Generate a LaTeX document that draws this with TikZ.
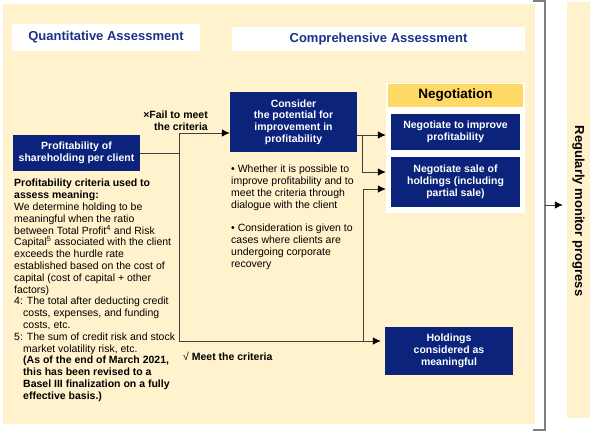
\documentclass[tikz,border=0pt]{standalone}
\usepackage{fontspec}
\setmainfont{Liberation Sans}
\usetikzlibrary{arrows.meta}
\definecolor{beige}{HTML}{FFF2CC}
\definecolor{navy}{HTML}{0B237A}
\definecolor{titleblue}{HTML}{1B3287}
\definecolor{yellowhd}{HTML}{FFD966}
\definecolor{linegray}{HTML}{404040}
\definecolor{brgray}{HTML}{7F7F7F}
\begin{document}
\begin{tikzpicture}[x=1pt,y=-1pt,
  navybox/.style={fill=navy, text=white, font=\bfseries\fontsize{10.5}{11.8}\selectfont, align=center, inner sep=0pt},
  titlebox/.style={fill=white, text=titleblue, font=\bfseries\fontsize{13}{15}\selectfont, inner sep=0pt},
  bodytext/.style={font=\fontsize{10.5}{11.8}\selectfont, inner sep=0pt, text=black},
  conn/.style={draw=linegray, line width=0.8pt},
  arr/.style={conn, -{Latex[length=8pt,width=7.5pt,color=black,fill=black]}}
]
\useasboundingbox (0,0) rectangle (593,434);
% backgrounds
\fill[beige] (3,4) rectangle (535,424);
\node[fill=beige, minimum width=23pt, minimum height=416pt, inner sep=0pt] (panel) at (578.5,210) {};
\node[rotate=-90, font=\bfseries\fontsize{13}{15}\selectfont, inner sep=0pt] (paneltext) at (578.5,211) {Regularly monitor progress};
% titles
\node[titlebox, minimum width=188pt, minimum height=27pt] (quant) at (106,37.5) {Quantitative Assessment};
\node[titlebox, minimum width=293pt, minimum height=24pt] (comp) at (378.5,39) {Comprehensive Assessment};
% boxes
\node[navybox, minimum width=127pt, minimum height=36pt] (profit) at (76.5,153) {Profitability of\\shareholding per client};
\node[navybox, minimum width=127pt, minimum height=60pt] (consider) at (293.5,122) {Consider\\the potential for\\improvement in\\profitability};
\node[fill=white, minimum width=139pt, minimum height=130pt, inner sep=0pt] (neg) at (455.5,148) {};
\node[fill=yellowhd, minimum width=135pt, minimum height=23pt, inner sep=0pt, font=\bfseries\fontsize{13.5}{15}\selectfont] (neghead) at (455.5,95.5) {Negotiation};
\node[navybox, minimum width=129pt, minimum height=36pt] (improve) at (455.5,132) {Negotiate to improve\\profitability};
\node[navybox, minimum width=129pt, minimum height=50pt] (sale) at (455.5,182) {Negotiate sale of\\holdings (including\\partial sale)};
\node[navybox, minimum width=128pt, minimum height=48pt] (hold) at (449,351) {Holdings\\considered as\\meaningful};
% texts
\node[bodytext, align=right, anchor=north east, font=\bfseries\fontsize{10.5}{11.8}\selectfont] (fail) at (208,111) {×Fail to meet\\the criteria};
\node[bodytext, anchor=west, font=\bfseries\fontsize{10.5}{11.8}\selectfont] (meet) at (183,356) {\mdseries√ \bfseries Meet the criteria};
\node[bodytext, align=left, anchor=north west] (criteria) at (14,179) {\textbf{Profitability criteria used to}\\
\textbf{assess meaning:}\\
We determine holding to be\\
meaningful when the ratio\\
between Total Profit\textsuperscript{4} and Risk\\
Capital\textsuperscript{5} associated with the client\\
exceeds the hurdle rate\\
established based on the cost of\\
capital (cost of capital + other\\
factors)\\
4: The total after deducting credit\\
\hspace*{9pt}costs, expenses, and funding\\
\hspace*{9pt}costs, etc.\\
5: The sum of credit risk and stock\\
\hspace*{9pt}market volatility risk, etc.\\
\hspace*{9pt}\textbf{(As of the end of March 2021,}\\
\hspace*{9pt}\textbf{this has been revised to a}\\
\hspace*{9pt}\textbf{Basel III finalization on a fully}\\
\hspace*{9pt}\textbf{effective basis.)}};
\node[bodytext, align=left, anchor=north west] (bullets) at (231,165) {• Whether it is possible to\\
improve profitability and to\\
meet the criteria through\\
dialogue with the client\\[11.8pt]
• Consideration is given to\\
cases where clients are\\
undergoing corporate\\
recovery};
% connectors
\coordinate (jtop) at (179,133);
\coordinate (jbot) at (179,341);
\coordinate (c1) at (362,135);
\coordinate (c2) at (362,172);
\coordinate (b1) at (363,341);
\coordinate (b2) at (363,189);
\coordinate (br) at (545,205);
\draw[conn] (profit.east) -- (profit.east -| jtop);
\draw[conn] (jtop) -- (jbot);
\draw[arr] (jtop) -- (jtop -| consider.west);
\draw[conn] (consider.east |- c1) -- (c1);
\draw[arr] (c1) -- (c1 -| neg.west);
\draw[arr] (c1) -- (c2) -- (c2 -| neg.west);
\draw[arr, shorten >=4pt] (jbot) -- (jbot -| hold.west);
\draw[arr] (b1) -- (b2) -- (b2 -| neg.west);
% bracket
\draw[draw=brgray, line width=1.2pt] (533,1) -- (545,1) -- (545,430) -- (533,430);
\draw[arr, shorten >=4pt] (br) -- (br -| panel.west);
\end{tikzpicture}
\end{document}
